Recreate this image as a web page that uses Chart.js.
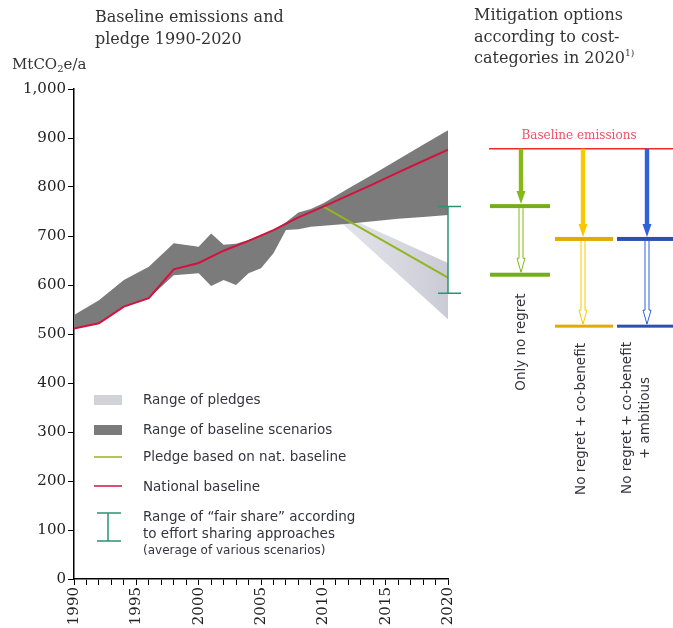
<!DOCTYPE html>
<html>
<head>
<meta charset="utf-8">
<title>Baseline emissions and pledge 1990-2020</title>
<script src="https://cdn.jsdelivr.net/npm/chart.js@4.4.1/dist/chart.umd.min.js"></script>
<style>
  body { margin: 0; background: #fff; }
  #wrap { position: relative; width: 673px; height: 628px; overflow: hidden; }
  #chart { position: absolute; left: 0; top: 0; }
  .title { position: absolute; font-family: "DejaVu Serif", serif; font-size: 16px; line-height: 21.5px; color: #333; white-space: nowrap; }
  .title sup { font-size: 9px; vertical-align: 7px; line-height: 0; }
  .unit { position: absolute; font-family: "DejaVu Serif", serif; font-size: 15px; color: #333; white-space: nowrap; }
  .unit sub { font-size: 10px; vertical-align: -3px; line-height: 0; }
</style>
</head>
<body>
<div id="wrap">
  <canvas id="chart" width="673" height="628"></canvas>
  <div class="title" style="left:95px;top:6px">Baseline emissions and<br>pledge 1990-2020</div>
  <div class="title" style="left:474px;top:4px">Mitigation options<br>according to cost-<br>categories in 2020<sup>1)</sup></div>
  <div class="unit" style="left:12px;top:55px">MtCO<sub>2</sub>e/a</div>
</div>
<script>
// national baseline (red line)
const lineYears = [1990, 1992, 1994, 1996, 1998, 2000, 2002, 2004, 2006, 2008, 2010, 2012, 2014, 2016, 2018, 2020];
const nationalBaseline = [511, 522, 556, 573, 632, 645, 670, 690, 712, 738, 760, 783, 806, 830, 853, 876];

// range of baseline scenarios (dark band)
const bandYears = [1990, 1992, 1994, 1996, 1998, 2000, 2001, 2002, 2003, 2004, 2005, 2006, 2007, 2008, 2009, 2010, 2012, 2014, 2016, 2018, 2020];
const scenarioHigh = [539, 569, 610, 637, 685, 678, 705, 682, 684, 692, 702, 712, 728, 748, 755, 767, 797, 826, 856, 886, 916];
const scenarioLow = [511, 522, 556, 573, 620, 624, 598, 610, 600, 624, 634, 665, 712, 714, 719, 721, 725, 730, 735, 739, 743];

// pledges
const pledgeYears = [2010, 2020];
const pledgeNatBaseline = [760, 615];
const pledgeHigh = [760, 645];
const pledgeLow = [760, 530];

// fair share range in 2020
const fairShareYear = 2020;
const fairShareRange = [583, 760];

// mitigation options in 2020 (right panel)
const mitigationOptions = [["Only no regret"], ["No regret + co-benefit"], ["No regret + co-benefit", "+ ambitious"]];
const mitigationBaseline = 878;
const mitigationFirst = [761, 694, 694];
const mitigationSecond = [622, 516, 516];

const legendLabels = [
  "Range of pledges",
  "Range of baseline scenarios",
  "Pledge based on nat. baseline",
  "National baseline",
  ["Range of \u201cfair share\u201d according", "to effort sharing approaches", "(average of various scenarios)"],
];

function pts(xs, ys) {
  return xs.map((x, i) => ({ x: x, y: ys[i] }));
}

const TEXT = "#34343f";
const RED = "#d3123f";
const PLEDGE = "#93b51e";
const FAIR = "#2b9470";
const DARK = "#7b7b7b";
const LIGHT = "rgba(200,201,212,0.85)";
const SANS = "'DejaVu Sans'";

// layout of right panel columns
const columns = [
  { x: 521, left: 490, right: 550, arrow: "#86b817", bar: "#76ae17", textX: 521, textY: 342 },
  { x: 583, left: 555, right: 613, arrow: "#f8c800", bar: "#e3ab00", textX: 581, textY: 419 },
  { x: 647, left: 617, right: 673, arrow: "#2f62d8", bar: "#2d4fae", textX: 627, textY: 418 },
];

function pledgeFill(context) {
  const chart = context.chart;
  const area = chart.chartArea;
  if (!area) return LIGHT;
  const xs = chart.scales.x;
  const g = chart.ctx.createLinearGradient(xs.getPixelForValue(pledgeYears[0]), 0, xs.getPixelForValue(pledgeYears[1]), 0);
  g.addColorStop(0, "rgba(215,215,225,0.6)");
  g.addColorStop(1, "rgba(196,197,208,0.9)");
  return g;
}

const extras = {
  id: "extras",
  afterDatasetsDraw(chart) {
    const ctx = chart.ctx;
    const xs = chart.scales.x, ys = chart.scales.y;
    // fair share error bar
    const fx = xs.getPixelForValue(fairShareYear);
    const y1 = ys.getPixelForValue(fairShareRange[0]);
    const y2 = ys.getPixelForValue(fairShareRange[1]);
    ctx.save();
    ctx.strokeStyle = FAIR;
    ctx.lineWidth = 1.5;
    ctx.beginPath();
    ctx.moveTo(fx, y1); ctx.lineTo(fx, y2);
    ctx.moveTo(fx - 10, y1); ctx.lineTo(fx + 13, y1);
    ctx.moveTo(fx - 10, y2); ctx.lineTo(fx + 13, y2);
    ctx.stroke();
    ctx.restore();
  },
  afterDraw(chart) {
    const ctx = chart.ctx;
    const ys = chart.scales.y;
    const L = chart.chartArea.left;

    // legend
    ctx.save();
    ctx.textBaseline = "middle";
    const sx = L + 20, sw = 28, tx = L + 69;
    ctx.fillStyle = "#d2d3d8";
    ctx.fillRect(sx, 395, sw, 10);
    ctx.fillStyle = DARK;
    ctx.fillRect(sx, 425, sw, 10);
    ctx.lineWidth = 1.5;
    ctx.strokeStyle = PLEDGE;
    ctx.beginPath(); ctx.moveTo(sx, 457); ctx.lineTo(sx + sw, 457); ctx.stroke();
    ctx.strokeStyle = RED;
    ctx.beginPath(); ctx.moveTo(sx, 486); ctx.lineTo(sx + sw, 486); ctx.stroke();
    ctx.strokeStyle = FAIR;
    ctx.beginPath();
    ctx.moveTo(sx + 14, 513); ctx.lineTo(sx + 14, 541);
    ctx.moveTo(sx + 3, 513); ctx.lineTo(sx + 27, 513);
    ctx.moveTo(sx + 3, 541); ctx.lineTo(sx + 27, 541);
    ctx.stroke();
    ctx.fillStyle = TEXT;
    ctx.font = "13.5px " + SANS;
    ctx.fillText(legendLabels[0], tx, 400);
    ctx.fillText(legendLabels[1], tx, 430);
    ctx.fillText(legendLabels[2], tx, 457);
    ctx.fillText(legendLabels[3], tx, 487);
    ctx.fillText(legendLabels[4][0], tx, 517);
    ctx.fillText(legendLabels[4][1], tx, 534);
    ctx.font = "12px " + SANS;
    ctx.fillText(legendLabels[4][2], tx, 551);
    ctx.restore();

    // right panel
    const by = ys.getPixelForValue(mitigationBaseline);
    ctx.save();
    ctx.strokeStyle = "#ee2a2a";
    ctx.lineWidth = 1.5;
    ctx.beginPath(); ctx.moveTo(489, by); ctx.lineTo(673, by); ctx.stroke();
    ctx.fillStyle = "#ef5068";
    ctx.font = "12px 'DejaVu Serif'";
    ctx.textAlign = "center";
    ctx.textBaseline = "alphabetic";
    ctx.fillText("Baseline emissions", 579, by - 10);

    columns.forEach((c, i) => {
      const hy = ys.getPixelForValue(mitigationFirst[i]);
      const ly = ys.getPixelForValue(mitigationSecond[i]);
      // solid arrow baseline -> first level
      ctx.fillStyle = c.arrow;
      ctx.fillRect(c.x - 2.2, by, 4.4, hy - by - 14);
      ctx.beginPath();
      ctx.moveTo(c.x - 4.5, hy - 15);
      ctx.lineTo(c.x + 4.5, hy - 15);
      ctx.lineTo(c.x, hy - 2);
      ctx.closePath();
      ctx.fill();
      // hollow arrow first -> second level
      ctx.strokeStyle = c.arrow;
      ctx.lineWidth = 1;
      const hs = ly - 16;
      ctx.beginPath();
      ctx.moveTo(c.x - 2, hy + 2); ctx.lineTo(c.x - 2, hs);
      ctx.lineTo(c.x - 4, hs); ctx.lineTo(c.x, ly - 2); ctx.lineTo(c.x + 4, hs);
      ctx.lineTo(c.x + 2, hs); ctx.lineTo(c.x + 2, hy + 2);
      ctx.stroke();
      // levels
      ctx.fillStyle = c.bar;
      ctx.fillRect(c.left, hy - 2, c.right - c.left, 4);
      ctx.fillRect(c.left, ly - 1.5, c.right - c.left, i === 0 ? 4 : 3);
      // label
      ctx.save();
      ctx.translate(c.textX, c.textY);
      ctx.rotate(-Math.PI / 2);
      ctx.fillStyle = TEXT;
      ctx.font = "13.5px " + SANS;
      ctx.textAlign = "center";
      ctx.textBaseline = "middle";
      mitigationOptions[i].forEach((t, k) => ctx.fillText(t, 0, k * 18));
      ctx.restore();
    });
    ctx.restore();
  }
};

const tickFont = { family: "DejaVu Serif", size: 15 };

new Chart(document.getElementById("chart"), {
  type: "line",
  data: {
    datasets: [
      { label: "National baseline", data: pts(lineYears, nationalBaseline), borderColor: RED, borderWidth: 2, pointRadius: 0, fill: false, order: 0 },
      { label: "Pledge based on nat. baseline", data: pts(pledgeYears, pledgeNatBaseline), borderColor: PLEDGE, borderWidth: 2, pointRadius: 0, fill: false, order: 1 },
      { label: "Range of baseline scenarios", data: pts(bandYears, scenarioHigh), borderWidth: 0, borderColor: DARK, backgroundColor: DARK, pointRadius: 0, fill: "+1", order: 3 },
      { label: "scenario low", data: pts(bandYears, scenarioLow), borderWidth: 0, borderColor: DARK, pointRadius: 0, fill: false, order: 3 },
      { label: "Range of pledges", data: pts(pledgeYears, pledgeHigh), borderWidth: 0, borderColor: LIGHT, backgroundColor: pledgeFill, pointRadius: 0, fill: "+1", order: 5 },
      { label: "pledge low", data: pts(pledgeYears, pledgeLow), borderWidth: 0, borderColor: LIGHT, pointRadius: 0, fill: false, order: 5 },
    ],
  },
  options: {
    responsive: false,
    animation: false,
    layout: { padding: { left: 10, right: 225, top: 89, bottom: 0 } },
    plugins: { legend: { display: false }, tooltip: { enabled: false } },
    scales: {
      x: {
        type: "linear",
        min: 1990,
        max: 2020,
        afterFit(scale) { scale.height = 49; },
        ticks: {
          stepSize: 1,
          autoSkip: false,
          minRotation: 90,
          maxRotation: 90,
          padding: 2,
          color: "#222",
          font: tickFont,
          callback: (v) => (v % 5 === 0 ? String(v) : ""),
        },
        grid: { drawOnChartArea: false, drawTicks: true, tickLength: 6, color: "#000", lineWidth: 1 },
        border: { display: true, color: "#000", width: 1.5 },
      },
      y: {
        min: 0,
        max: 1000,
        afterFit(scale) { scale.width = 64; },
        ticks: {
          stepSize: 100,
          padding: 2,
          color: "#222",
          font: tickFont,
          callback: (v) => v.toLocaleString("en-US"),
        },
        grid: { drawOnChartArea: false, drawTicks: true, tickLength: 6, color: "#000", lineWidth: 1 },
        border: { display: true, color: "#000", width: 1.5 },
      },
    },
  },
  plugins: [extras],
});
</script>
</body>
</html>
